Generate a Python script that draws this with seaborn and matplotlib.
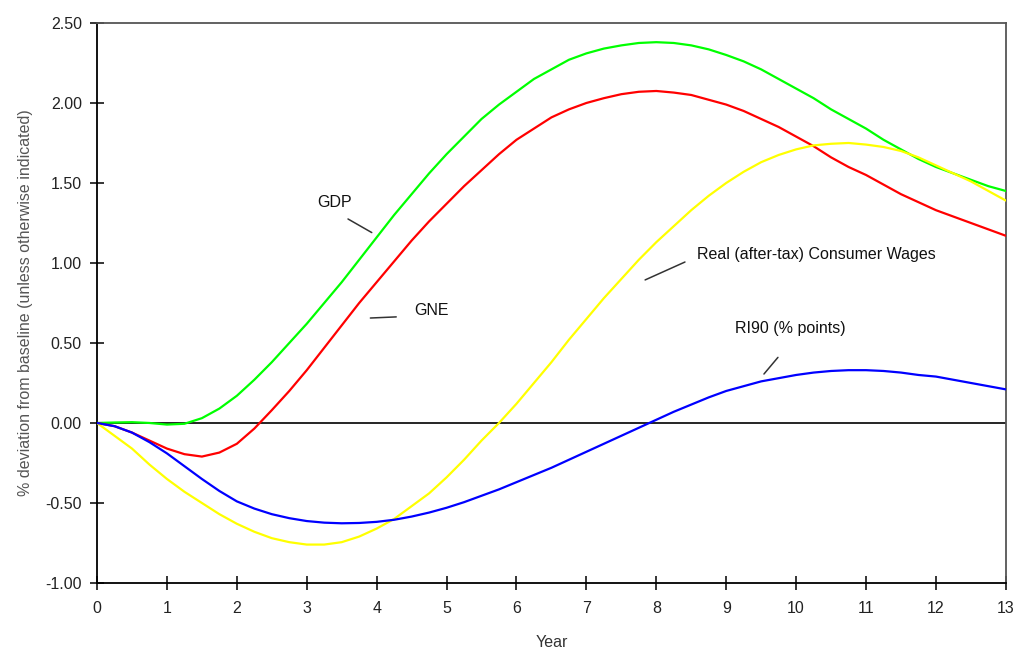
import numpy as np
import pandas as pd
import matplotlib
matplotlib.use("Agg")
import matplotlib.pyplot as plt
import seaborn as sns

sns.set_style("white")
plt.rcParams['font.family'] = ['Liberation Sans', 'DejaVu Sans']

# Data at quarter-year steps, 0 .. 13
years = list(np.arange(0, 13.01, 0.25))
gdp = [0.0, 0.003, 0.005, 0.0, -0.01, -0.005, 0.03, 0.09, 0.17, 0.27, 0.38, 0.50, 0.62,
       0.75, 0.88, 1.02, 1.16, 1.30, 1.43, 1.56, 1.68, 1.79, 1.90, 1.99, 2.07, 2.15, 2.21,
       2.27, 2.31, 2.34, 2.36, 2.375, 2.38, 2.375, 2.36, 2.335, 2.30, 2.26, 2.21, 2.15, 2.09,
       2.03, 1.96, 1.90, 1.84, 1.77, 1.71, 1.65, 1.60, 1.56, 1.52, 1.48, 1.45]
gne = [0.0, -0.02, -0.06, -0.11, -0.16, -0.195, -0.21, -0.185, -0.13, -0.035, 0.08, 0.20, 0.33,
       0.47, 0.61, 0.75, 0.88, 1.01, 1.14, 1.26, 1.37, 1.48, 1.58, 1.68, 1.77, 1.84, 1.91,
       1.96, 2.00, 2.03, 2.055, 2.07, 2.075, 2.065, 2.05, 2.02, 1.99, 1.95, 1.90, 1.85, 1.79,
       1.73, 1.66, 1.60, 1.55, 1.49, 1.43, 1.38, 1.33, 1.29, 1.25, 1.21, 1.17]
wages = [0.0, -0.08, -0.16, -0.26, -0.35, -0.43, -0.50, -0.57, -0.63, -0.68, -0.72, -0.745, -0.76,
         -0.76, -0.745, -0.71, -0.66, -0.60, -0.52, -0.44, -0.34, -0.23, -0.11, 0.0, 0.12, 0.25, 0.38,
         0.52, 0.65, 0.78, 0.90, 1.02, 1.13, 1.23, 1.33, 1.42, 1.50, 1.57, 1.63, 1.675, 1.71,
         1.735, 1.745, 1.75, 1.74, 1.725, 1.70, 1.66, 1.61, 1.56, 1.51, 1.45, 1.39]
ri90 = [0.0, -0.02, -0.06, -0.12, -0.19, -0.27, -0.35, -0.425, -0.49, -0.535, -0.57, -0.595, -0.613,
        -0.623, -0.627, -0.625, -0.618, -0.605, -0.585, -0.56, -0.53, -0.495, -0.455, -0.415, -0.37,
        -0.325, -0.28, -0.23, -0.18, -0.13, -0.08, -0.03, 0.02, 0.07, 0.115, 0.16, 0.20, 0.23,
        0.26, 0.28, 0.30, 0.315, 0.325, 0.33, 0.33, 0.325, 0.315, 0.30, 0.29, 0.27, 0.25, 0.23, 0.21]

series = {"GDP": gdp, "GNE": gne, "Real (after-tax) Consumer Wages": wages, "RI90 (% points)": ri90}
colors = {"GDP": "#00ff00", "GNE": "#ff0000",
          "Real (after-tax) Consumer Wages": "#ffff00", "RI90 (% points)": "#0000ff"}

df = pd.concat([pd.DataFrame({"Year": years, "value": v, "series": k}) for k, v in series.items()])

fig = plt.figure(figsize=(10.16, 6.51), dpi=100)
ax = fig.add_axes([0.0955, 0.1045, 0.8945, 0.8602])

ax.axhline(0, color="black", lw=1.2, zorder=1)
sns.lineplot(data=df, x="Year", y="value", hue="series", palette=colors,
             lw=1.6, legend=False, ax=ax, zorder=3)

ax.set_xlim(0, 13)
ax.set_ylim(-1.0, 2.5)
ax.set_xticks(range(0, 14))
ax.set_yticks(np.arange(-1.0, 2.51, 0.5))
ax.set_yticklabels([f"{t:.2f}" for t in np.arange(-1.0, 2.51, 0.5)])
ax.tick_params(bottom=True, left=True, direction="inout", length=10, width=1.1,
               labelsize=11.5, colors="black", labelcolor="#222222", pad=6)
ax.tick_params(axis="x", pad=8)

for s in ["left", "bottom"]:
    ax.spines[s].set_color("black")
    ax.spines[s].set_linewidth(1.3)
for s in ["top", "right"]:
    ax.spines[s].set_color("#555555")
    ax.spines[s].set_linewidth(1.3)

ax.set_xlabel("Year", fontsize=11.5, color="#333333", labelpad=14)
ax.set_ylabel("% deviation from baseline (unless otherwise indicated)",
              fontsize=11.5, color="#555555", labelpad=9)

# labels with leader lines
lead = dict(arrowstyle="-", color="#333333", lw=1.1, shrinkA=0, shrinkB=0)
ax.text(3.40, 1.38, "GDP", ha="center", va="center", fontsize=11.5, color="#111111")
ax.annotate("", xy=(3.93, 1.19), xytext=(3.59, 1.275), arrowprops=lead)
ax.text(4.79, 0.70, "GNE", ha="center", va="center", fontsize=11.5, color="#111111")
ax.annotate("", xy=(3.91, 0.656), xytext=(4.28, 0.663), arrowprops=lead)
ax.text(8.58, 1.056, "Real (after-tax) Consumer Wages", ha="left", va="center",
        fontsize=11.5, color="#111111")
ax.annotate("", xy=(7.84, 0.894), xytext=(8.41, 1.006), arrowprops=lead)
ax.text(9.91, 0.59, "RI90 (% points)", ha="center", va="center", fontsize=11.5, color="#111111")
ax.annotate("", xy=(9.54, 0.306), xytext=(9.74, 0.41), arrowprops=lead)

fig.savefig("out.png", dpi=100)
